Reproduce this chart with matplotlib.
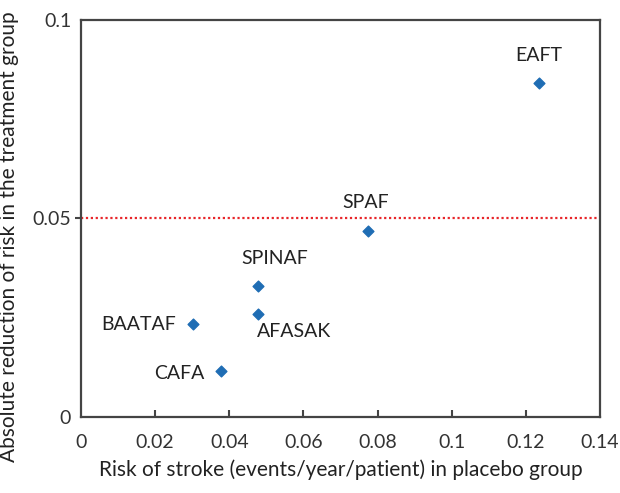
import matplotlib.pyplot as plt

# trial data
trials = ['EAFT', 'SPAF', 'SPINAF', 'AFASAK', 'BAATAF', 'CAFA']
placebo_risk = [0.1236, 0.0775, 0.0478, 0.0478, 0.0302, 0.0378]
risk_reduction = [0.0841, 0.0469, 0.0330, 0.0260, 0.0234, 0.0116]

# label offsets in points (dx, dy, ha, va)
label_pos = {
    'EAFT': (0, 14, 'center', 'bottom'),
    'SPAF': (-2, 14, 'center', 'bottom'),
    'SPINAF': (12, 14, 'center', 'bottom'),
    'AFASAK': (26, -7, 'center', 'top'),
    'BAATAF': (-12, 0, 'right', 'center'),
    'CAFA': (-12, -2, 'right', 'center'),
}

xticks = [0, 0.02, 0.04, 0.06, 0.08, 0.1, 0.12, 0.14]
xticklabels = ['0', '0.02', '0.04', '0.06', '0.08', '0.1', '0.12', '0.14']
yticks = [0, 0.05, 0.1]
yticklabels = ['0', '0.05', '0.1']

plt.rcParams['font.family'] = ['Lato', 'DejaVu Sans']

fig = plt.figure(figsize=(6.2, 4.93), dpi=100)
ax = fig.add_axes([0.1306, 0.1542, 0.8371, 0.8052])

ax.axhline(0.05, color='#e8262a', linestyle=(0, (1, 1.2)), linewidth=1.6, zorder=1)
ax.scatter(placebo_risk, risk_reduction, marker='D', s=30, color='#1f6db4', zorder=3)

for name, x, y in zip(trials, placebo_risk, risk_reduction):
    dx, dy, ha, va = label_pos[name]
    ax.annotate(name, (x, y), xytext=(dx, dy), textcoords='offset points',
                ha=ha, va=va, fontsize=14, color='#222222')

ax.set_xlim(0, 0.14)
ax.set_ylim(0, 0.1)
ax.set_xticks(xticks)
ax.set_xticklabels(xticklabels)
ax.set_yticks(yticks)
ax.set_yticklabels(yticklabels)
ax.tick_params(axis='x', direction='in', length=5, width=1.5, pad=12,
               labelsize=14, labelcolor='#333333', color='#444444')
ax.tick_params(axis='y', direction='out', length=4, width=1.5, pad=3,
               labelsize=14, labelcolor='#333333', color='#444444')
for t in [ax.xaxis.get_major_ticks()[0], ax.xaxis.get_major_ticks()[-1],
          ax.yaxis.get_major_ticks()[0], ax.yaxis.get_major_ticks()[-1]]:
    t.tick1line.set_visible(False)

for s in ax.spines.values():
    s.set_color('#444444')
    s.set_linewidth(1.6)

ax.set_xlabel('Risk of stroke (events/year/patient) in placebo group',
              fontsize=15, color='#222222', labelpad=6)
ax.set_ylabel('Absolute reduction of risk in the treatment group',
              fontsize=15, color='#222222')
ax.yaxis.set_label_coords(-0.12, 0.453)

fig.savefig('out.png', dpi=100)
